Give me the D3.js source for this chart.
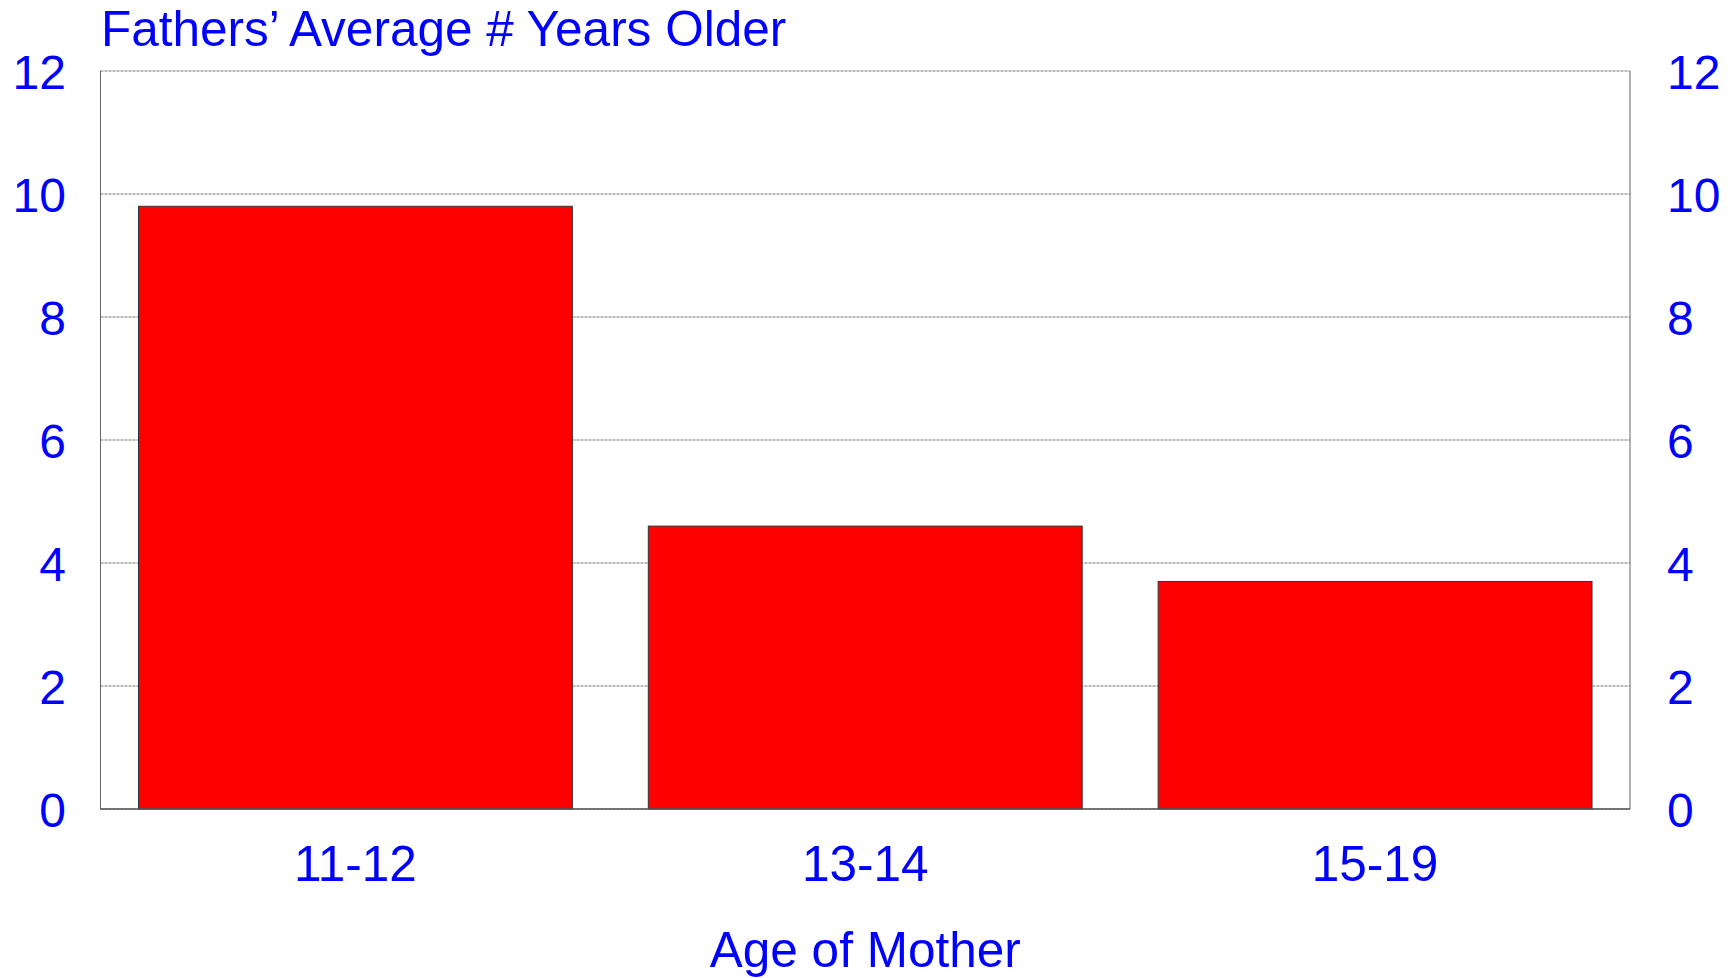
<!DOCTYPE html>
<html>
<head>
<meta charset="utf-8">
<script src="https://cdn.jsdelivr.net/npm/d3@7"></script>
<style>
  body { margin: 0; background: #fff; }
  text { font-family: "Liberation Sans", Arial, sans-serif; fill: #0000ff; }
</style>
</head>
<body>
<script>
var width = 1733, height = 978;
var margin = {left: 100.5, right: 103, top: 71, bottom: 169};

var ages = ["11-12", "13-14", "15-19"];
var yearsOlder = [9.8, 4.6, 3.7];
var yTicks = [0, 2, 4, 6, 8, 10, 12];

var titleText = "Fathers\u2019 Average # Years Older";
var xTitle = "Age of Mother";

var svg = d3.select("body").append("svg")
  .attr("width", width)
  .attr("height", height);

var x = d3.scaleBand()
  .domain(ages)
  .range([margin.left, width - margin.right])
  .paddingInner(0.149)
  .paddingOuter(0.0745);

var y = d3.scaleLinear()
  .domain([0, 12])
  .range([height - margin.bottom, margin.top]);

// gridlines
svg.append("g").selectAll("line")
  .data(yTicks)
  .enter().append("line")
  .attr("x1", margin.left)
  .attr("x2", width - margin.right)
  .attr("y1", function(d) { return y(d); })
  .attr("y2", function(d) { return y(d); })
  .style("stroke", "#777")
  .style("stroke-width", 1)
  .style("stroke-dasharray", "3,1");

// side frame
svg.append("line")
  .attr("x1", margin.left).attr("x2", margin.left)
  .attr("y1", y(12)).attr("y2", y(0))
  .style("stroke", "#666").style("stroke-width", 1);
svg.append("line")
  .attr("x1", width - margin.right).attr("x2", width - margin.right)
  .attr("y1", y(12)).attr("y2", y(0))
  .style("stroke", "#666").style("stroke-width", 1);

// bars
svg.append("g").selectAll("rect")
  .data(yearsOlder)
  .enter().append("rect")
  .attr("x", function(d, i) { return x(ages[i]); })
  .attr("y", function(d) { return y(d); })
  .attr("width", x.bandwidth())
  .attr("height", function(d) { return y(0) - y(d); })
  .style("fill", "#ff0000")
  .style("stroke", "#333")
  .style("stroke-width", 1);

// baseline
svg.append("line")
  .attr("x1", margin.left).attr("x2", width - margin.right)
  .attr("y1", y(0)).attr("y2", y(0))
  .style("stroke", "#555").style("stroke-width", 1.5);

// y labels both sides
svg.append("g").selectAll("text")
  .data(yTicks)
  .enter().append("text")
  .attr("x", 66)
  .attr("y", function(d) { return y(d) + 18; })
  .attr("text-anchor", "end")
  .style("font-size", "48px")
  .text(function(d) { return d; });

svg.append("g").selectAll("text")
  .data(yTicks)
  .enter().append("text")
  .attr("x", 1667)
  .attr("y", function(d) { return y(d) + 18; })
  .attr("text-anchor", "start")
  .style("font-size", "48px")
  .text(function(d) { return d; });

// category labels
svg.append("g").selectAll("text")
  .data(ages)
  .enter().append("text")
  .attr("x", function(d) { return x(d) + x.bandwidth() / 2; })
  .attr("y", 881)
  .attr("text-anchor", "middle")
  .style("font-size", "49.5px")
  .text(function(d) { return d; });

svg.append("text")
  .attr("x", (margin.left + width - margin.right) / 2)
  .attr("y", 967)
  .attr("text-anchor", "middle")
  .style("font-size", "49.5px")
  .text(xTitle);

svg.append("text")
  .attr("x", 101)
  .attr("y", 46)
  .attr("text-anchor", "start")
  .style("font-size", "49.5px")
  .text(titleText);
</script>
</body>
</html>
